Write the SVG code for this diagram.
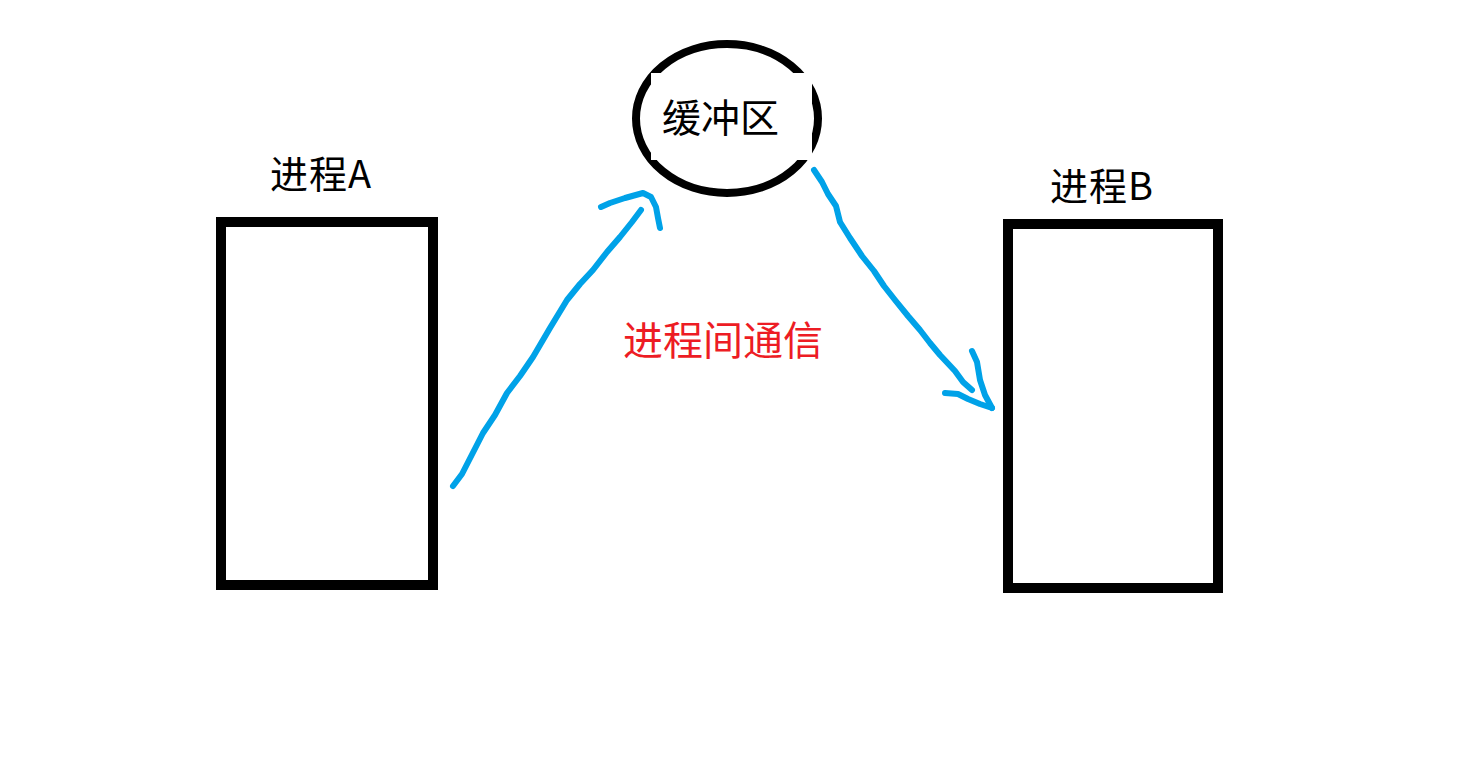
<svg xmlns="http://www.w3.org/2000/svg" width="1470" height="757" viewBox="0 0 1470 757">
<style>
.box{fill:none;stroke:#000;stroke-width:10}
.lbl{font-family:"Noto Sans CJK SC","Microsoft YaHei",sans-serif;fill:#000}
.pen{fill:none;stroke:#00a2e8;stroke-width:6;stroke-linecap:round;stroke-linejoin:round}
</style>
<rect width="1470" height="757" fill="#fff"/>
<g id="procA">
<rect class="box" x="221" y="222" width="212" height="363"/>
<text class="lbl" x="270" y="188" font-size="38" letter-spacing="1">进程A</text>
</g>
<g id="procB">
<rect class="box" x="1008" y="224" width="210" height="364"/>
<text class="lbl" x="1050" y="200" font-size="38" letter-spacing="1">进程B</text>
</g>
<g id="buffer">
<ellipse cx="727" cy="118.5" rx="91" ry="74.5" fill="#fff" stroke="#000" stroke-width="8"/>
<rect x="651" y="73" width="161" height="87" fill="#fff"/>
<text class="lbl" x="662" y="132" font-size="39">缓冲区</text>
</g>
<g id="ipc">
<text x="623" y="355" font-size="40" font-family="Noto Sans CJK SC,sans-serif" fill="#ed1c24">进程间通信</text>
</g>
<g id="connectors">
<path class="pen" d="M453,486 L462,474 L483,433 L495,415 L507,393 L520,376 L533,357 L550,328 L567,300 L580,284 L593,270 L607,252 L620,237 L632,222 L641,210"/>
<path class="pen" d="M601,207 L610,203 L625,198 L643,193 L651,197 L656,207 L658,218 L660,228"/>
<path class="pen" d="M814,170 L822,182 L828,194 L836,206 L840,222 L850,238 L862,256 L874,271 L884,286 L895,300 L908,316 L920,330 L930,343 L940,355 L955,371 L963,382 L972,390"/>
<path class="pen" d="M972,351 L977,362 L980,380 L985,395 L992,408"/>
<path class="pen" d="M945,393 L958,394 L968,399 L980,404 L992,408"/>
</g>
</svg>
